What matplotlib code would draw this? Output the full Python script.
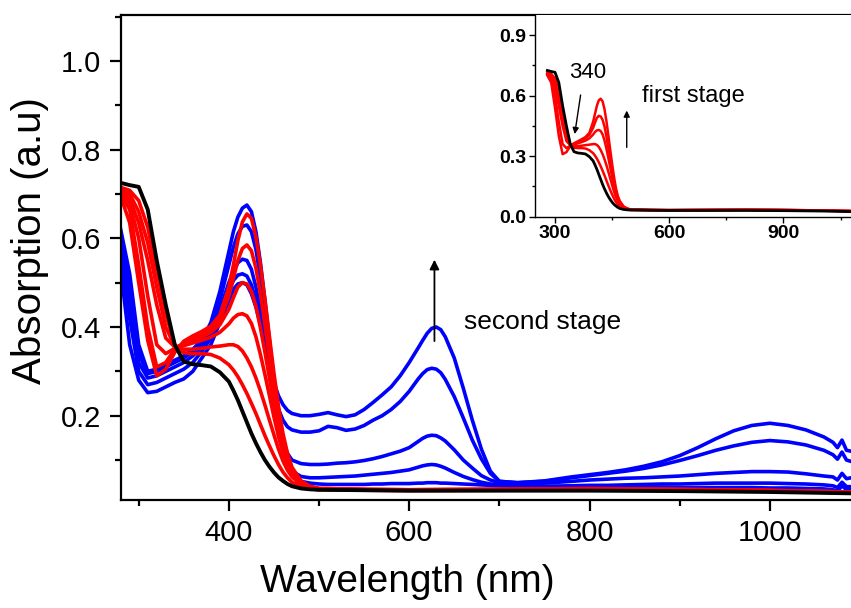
"""
UV-Vis-NIR absorption spectra, two-stage titration
"""
import matplotlib
matplotlib.use("Agg")
import matplotlib.pyplot as plt
from matplotlib.ticker import MultipleLocator

plt.rcParams['font.family'] = ['Liberation Sans', 'DejaVu Sans']

# --- first stage (black = start, red = titration steps) ---
wl_first = [280, 290, 300, 310, 320, 330, 340, 350, 360, 370, 380, 390, 400,
            405, 410, 415, 420, 425, 430, 435, 440, 445, 450, 455, 460, 465,
            470, 480, 490, 500, 550, 600, 700, 800, 900, 1000, 1090]

black_start = [0.725, 0.72, 0.716, 0.665, 0.55, 0.45, 0.36, 0.322, 0.316, 0.314, 0.311, 0.298, 0.277,
               0.257, 0.235, 0.21, 0.185, 0.16, 0.138, 0.118, 0.10, 0.085, 0.072, 0.061, 0.053, 0.046,
               0.041, 0.036, 0.034, 0.033, 0.032, 0.031, 0.031, 0.031, 0.030, 0.028, 0.025]

red_1 = [0.715, 0.708, 0.685, 0.625, 0.525, 0.43, 0.36, 0.342, 0.34, 0.34, 0.338, 0.33, 0.315,
         0.303, 0.288, 0.27, 0.25, 0.228, 0.205, 0.18, 0.155, 0.132, 0.11, 0.09, 0.073, 0.06,
         0.05, 0.04, 0.035, 0.033, 0.032, 0.031, 0.032, 0.033, 0.032, 0.030, 0.027]
red_2 = [0.712, 0.70, 0.66, 0.59, 0.49, 0.40, 0.356, 0.35, 0.35, 0.352, 0.355, 0.357, 0.36,
         0.36, 0.356, 0.346, 0.33, 0.31, 0.285, 0.256, 0.224, 0.19, 0.157, 0.125, 0.098, 0.077,
         0.062, 0.045, 0.038, 0.035, 0.033, 0.032, 0.033, 0.034, 0.032, 0.030, 0.026]
red_3 = [0.708, 0.69, 0.635, 0.55, 0.45, 0.375, 0.355, 0.358, 0.364, 0.37, 0.377, 0.388, 0.407,
         0.42, 0.428, 0.43, 0.425, 0.408, 0.378, 0.338, 0.293, 0.245, 0.197, 0.153, 0.117, 0.09,
         0.07, 0.048, 0.039, 0.035, 0.033, 0.032, 0.033, 0.034, 0.033, 0.031, 0.027]
red_4 = [0.705, 0.68, 0.60, 0.47, 0.36, 0.34, 0.352, 0.362, 0.37, 0.378, 0.388, 0.405, 0.44,
         0.466, 0.49, 0.50, 0.497, 0.48, 0.447, 0.398, 0.343, 0.285, 0.227, 0.173, 0.128, 0.095,
         0.073, 0.049, 0.039, 0.035, 0.033, 0.033, 0.034, 0.035, 0.033, 0.031, 0.028]
red_5 = [0.70, 0.665, 0.54, 0.40, 0.31, 0.32, 0.35, 0.364, 0.374, 0.384, 0.395, 0.415, 0.47,
         0.51, 0.55, 0.577, 0.585, 0.572, 0.533, 0.475, 0.405, 0.332, 0.262, 0.197, 0.142, 0.103,
         0.078, 0.051, 0.04, 0.036, 0.034, 0.033, 0.034, 0.035, 0.034, 0.031, 0.028]
red_6 = [0.695, 0.635, 0.50, 0.37, 0.29, 0.305, 0.343, 0.368, 0.38, 0.39, 0.402, 0.427, 0.49,
         0.54, 0.595, 0.637, 0.655, 0.645, 0.603, 0.54, 0.462, 0.378, 0.296, 0.222, 0.16, 0.115,
         0.084, 0.053, 0.041, 0.036, 0.034, 0.033, 0.034, 0.036, 0.034, 0.032, 0.028]

# --- second stage (blue) ---
wl_second = [280, 290, 300, 310, 320, 330, 340, 350, 360, 370, 380, 390, 400,
             405, 410, 415, 420, 425, 430, 435, 440, 445, 450, 455, 460, 465, 470,
             480, 490, 500, 510, 520, 530, 540, 550, 560, 570, 580, 590, 600, 610,
             615, 620, 625, 630, 635, 640,
             650, 660, 670, 680, 690, 700,
             720, 750, 780,
             800, 820, 840, 860, 880, 900, 920, 940, 960, 980, 1000, 1020, 1040, 1060,
             1070, 1075, 1080, 1085, 1090]

blue_1 = [0.62, 0.52, 0.36, 0.30, 0.305, 0.315, 0.325, 0.335, 0.35, 0.37, 0.41, 0.48, 0.57,
          0.615, 0.648, 0.668, 0.675, 0.66, 0.615, 0.545, 0.46, 0.37, 0.28, 0.20, 0.135, 0.09, 0.068,
          0.052, 0.048, 0.046, 0.045, 0.045, 0.045, 0.045, 0.045, 0.046, 0.046, 0.047, 0.047, 0.047, 0.048,
          0.048, 0.049, 0.049, 0.049, 0.048, 0.048,
          0.047, 0.046, 0.045, 0.044, 0.043, 0.042,
          0.041, 0.040, 0.040,
          0.040, 0.040, 0.039, 0.039, 0.039, 0.038, 0.038, 0.038, 0.038, 0.038, 0.037, 0.037, 0.036, 0.035,
          0.033, 0.030, 0.042, 0.033, 0.034]
blue_2 = [0.60, 0.48, 0.34, 0.295, 0.30, 0.31, 0.32, 0.33, 0.345, 0.365, 0.40, 0.46, 0.54,
          0.58, 0.61, 0.627, 0.63, 0.615, 0.575, 0.51, 0.43, 0.345, 0.26, 0.185, 0.13, 0.095, 0.075,
          0.063, 0.06, 0.06, 0.061, 0.062, 0.063, 0.064, 0.066, 0.068, 0.07, 0.072, 0.075, 0.078, 0.084,
          0.087, 0.089, 0.09, 0.089, 0.086, 0.082,
          0.072, 0.063, 0.056, 0.05, 0.046, 0.044,
          0.042, 0.041, 0.042,
          0.043, 0.043, 0.044, 0.045, 0.046, 0.046, 0.047, 0.048, 0.048, 0.048, 0.048, 0.047, 0.046, 0.044,
          0.042, 0.038, 0.050, 0.040, 0.040]
blue_3 = [0.58, 0.45, 0.32, 0.285, 0.29, 0.30, 0.31, 0.32, 0.335, 0.355, 0.385, 0.44, 0.50,
          0.525, 0.545, 0.553, 0.55, 0.53, 0.49, 0.435, 0.37, 0.30, 0.235, 0.18, 0.14, 0.115, 0.10,
          0.092, 0.09, 0.09, 0.091, 0.093, 0.094, 0.096, 0.099, 0.103, 0.108, 0.114, 0.12, 0.128, 0.142,
          0.149, 0.154, 0.156, 0.155, 0.15, 0.143,
          0.123, 0.10, 0.082, 0.065, 0.055, 0.049,
          0.046, 0.048, 0.052,
          0.055, 0.057, 0.059, 0.06, 0.062, 0.064, 0.067, 0.07, 0.072, 0.074, 0.074, 0.073, 0.069, 0.064,
          0.062, 0.055, 0.070, 0.058, 0.060]
blue_4 = [0.56, 0.42, 0.30, 0.27, 0.275, 0.285, 0.295, 0.305, 0.32, 0.345, 0.375, 0.43, 0.48,
          0.505, 0.517, 0.52, 0.515, 0.495, 0.46, 0.415, 0.36, 0.305, 0.255, 0.215, 0.19, 0.175, 0.168,
          0.163, 0.163, 0.166, 0.176, 0.173, 0.167, 0.17, 0.178, 0.19, 0.20, 0.214, 0.232, 0.255, 0.283,
          0.295, 0.304, 0.307, 0.305, 0.297, 0.282,
          0.243, 0.195, 0.145, 0.103, 0.07, 0.052,
          0.049, 0.052, 0.06,
          0.065, 0.07, 0.075, 0.081, 0.089, 0.099, 0.11, 0.122, 0.132, 0.14, 0.144, 0.141, 0.134, 0.122,
          0.112, 0.102, 0.118, 0.100, 0.097]
blue_5 = [0.53, 0.36, 0.28, 0.252, 0.255, 0.265, 0.275, 0.283, 0.30, 0.33, 0.36, 0.41, 0.46,
          0.485, 0.497, 0.50, 0.495, 0.475, 0.445, 0.405, 0.36, 0.315, 0.275, 0.245, 0.225, 0.212, 0.205,
          0.20, 0.20, 0.203, 0.207, 0.202, 0.198, 0.202, 0.214, 0.23, 0.247, 0.265, 0.29, 0.32, 0.353,
          0.37, 0.386, 0.397, 0.40, 0.394, 0.378,
          0.33, 0.262, 0.19, 0.125, 0.075, 0.052,
          0.049, 0.053, 0.062,
          0.067, 0.072, 0.078, 0.086, 0.096, 0.11, 0.128, 0.148, 0.166, 0.178, 0.183, 0.178, 0.168, 0.152,
          0.14, 0.128, 0.145, 0.122, 0.12]

reds = [red_1, red_2, red_3, red_4, red_5, red_6]
blues = [blue_1, blue_2, blue_3, blue_4, blue_5]

fig = plt.figure(figsize=(8.51, 6.08), dpi=100)

# main panel
ax = fig.add_axes([0.1418, 0.1776, 0.8582, 0.7977])
for b in blues:
    ax.plot(wl_second, b, color='#0000ff', lw=2.6, solid_joinstyle='round')
for r in reds:
    ax.plot(wl_first, r, color='#ff0000', lw=2.6, solid_joinstyle='round')
ax.plot(wl_first, black_start, color='black', lw=2.8, solid_joinstyle='round')

ax.set_xlim(280, 1090)
ax.set_ylim(0.0099, 1.1035)
ax.xaxis.set_major_locator(MultipleLocator(200))
ax.xaxis.set_minor_locator(MultipleLocator(100))
ax.yaxis.set_major_locator(MultipleLocator(0.2))
ax.yaxis.set_minor_locator(MultipleLocator(0.1))
ax.tick_params(which='both', direction='out', width=1.6, labelsize=21, top=False, right=False)
ax.tick_params(which='major', length=8, pad=6)
ax.tick_params(which='minor', length=4)
ax.spines['right'].set_visible(False)
for s in ['left', 'bottom', 'top']:
    ax.spines[s].set_linewidth(1.6)

ax.annotate('', xy=(628, 0.558), xytext=(628, 0.362),
            arrowprops=dict(arrowstyle='-|>', lw=1.3, color='black', mutation_scale=14))
ax.text(661, 0.411, 'second stage', fontsize=19, va='center', ha='left')

fig.text(407 / 851, 1 - 582 / 608, 'Wavelength (nm)', fontsize=28, ha='center', va='center')
fig.text(30 / 851, 1 - 241 / 608, 'Absorption (a.u)', fontsize=29, ha='center', va='center',
         rotation=90)

# inset: first stage only
ins = fig.add_axes([0.6287, 0.6436, 0.3713, 0.3317])
for r in reds[:5]:
    ins.plot(wl_first, r, color='#ff0000', lw=1.8)
ins.plot(wl_first, black_start, color='black', lw=2.0)
ins.set_xlim(247.5, 1077.5)
ins.set_ylim(0, 1.0)
ins.xaxis.set_major_locator(MultipleLocator(300))
ins.xaxis.set_minor_locator(MultipleLocator(150))
ins.yaxis.set_major_locator(MultipleLocator(0.3))
ins.yaxis.set_minor_locator(MultipleLocator(0.15))
ins.tick_params(which='both', direction='out', width=1.0, labelsize=14, pad=2)
ins.tick_params(which='major', length=4)
ins.tick_params(which='minor', length=2.5)
for lab in ins.get_xticklabels() + ins.get_yticklabels():
    lab.set_fontweight('bold')
ins.spines['right'].set_visible(False)
ins.spines['top'].set_visible(False)
for s in ['left', 'bottom']:
    ins.spines[s].set_linewidth(1.0)

ins.annotate('', xy=(350.7, 0.396), xytext=(368.3, 0.617),
             arrowprops=dict(arrowstyle='-|>', lw=1.0, color='black', mutation_scale=9))
ins.text(386.7, 0.716, '340', fontsize=16, ha='center', va='center')
ins.annotate('', xy=(488.4, 0.54), xytext=(488.4, 0.33),
             arrowprops=dict(arrowstyle='-|>', lw=1.0, color='black', mutation_scale=9))
ins.text(528.5, 0.60, 'first stage', fontsize=17, ha='left', va='center')

fig.savefig('out.png', dpi=100)
